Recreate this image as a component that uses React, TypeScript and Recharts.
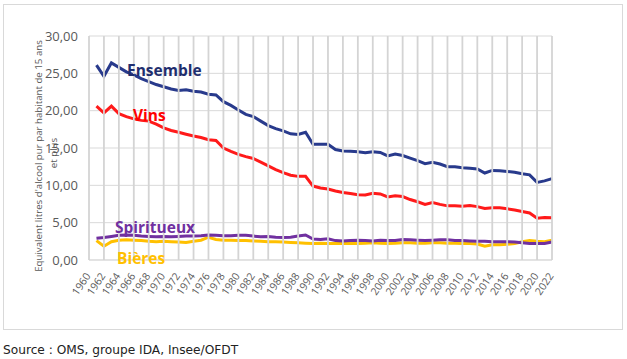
import { CartesianGrid, Line, LineChart, XAxis, YAxis } from "recharts";

const YEARS = [
  1961, 1962, 1963, 1964, 1965, 1966, 1967, 1968, 1969, 1970, 1971, 1972,
  1973, 1974, 1975, 1976, 1977, 1978, 1979, 1980, 1981, 1982, 1983, 1984,
  1985, 1986, 1987, 1988, 1989, 1990, 1991, 1992, 1993, 1994, 1995, 1996,
  1997, 1998, 1999, 2000, 2001, 2002, 2003, 2004, 2005, 2006, 2007, 2008,
  2009, 2010, 2011, 2012, 2013, 2014, 2015, 2016, 2017, 2018, 2019, 2020,
  2021, 2022,
];

const ENSEMBLE = [
  26.1, 24.6, 26.4, 25.8, 25.2, 24.8, 24.3, 23.9, 23.5, 23.2, 22.9, 22.7,
  22.8, 22.6, 22.5, 22.2, 22.1, 21.2, 20.7, 20.1, 19.5, 19.2, 18.6, 18.0,
  17.6, 17.3, 16.9, 16.8, 17.1, 15.5, 15.5, 15.5, 14.8, 14.6, 14.55, 14.5,
  14.35, 14.5, 14.4, 13.95, 14.2, 14.0, 13.65, 13.3, 12.9, 13.1, 12.85, 12.5,
  12.5, 12.35, 12.3, 12.2, 11.65, 12.0, 11.95, 11.85, 11.75, 11.55, 11.4, 10.4,
  10.6, 10.9,
];

const VINS = [
  20.6, 19.7, 20.6, 19.6, 19.2, 18.9, 18.7, 18.6, 18.2, 17.7, 17.35, 17.1,
  16.85, 16.6, 16.4, 16.1, 16.0, 15.0, 14.55, 14.15, 13.85, 13.6, 13.1, 12.6,
  12.1, 11.7, 11.35, 11.2, 11.2, 9.9, 9.65, 9.5, 9.25, 9.05, 8.9, 8.75,
  8.7, 8.95, 8.85, 8.45, 8.6, 8.5, 8.1, 7.8, 7.45, 7.7, 7.45, 7.25,
  7.25, 7.2, 7.3, 7.15, 6.9, 7.0, 7.0, 6.85, 6.7, 6.5, 6.3, 5.6,
  5.7, 5.65,
];

const SPIRITUEUX = [
  2.9, 3.0, 3.15, 3.3, 3.35, 3.3, 3.2, 3.15, 3.1, 3.15, 3.1, 3.15,
  3.2, 3.2, 3.25, 3.35, 3.3, 3.25, 3.25, 3.3, 3.3, 3.2, 3.1, 3.15,
  3.05, 3.0, 3.05, 3.2, 3.35, 2.8, 2.75, 2.85, 2.6, 2.55, 2.6, 2.65,
  2.6, 2.55, 2.65, 2.6, 2.6, 2.75, 2.7, 2.65, 2.6, 2.65, 2.7, 2.7,
  2.6, 2.6, 2.55, 2.5, 2.5, 2.45, 2.45, 2.45, 2.4, 2.3, 2.2, 2.2,
  2.2, 2.4,
];

const BIERES = [
  2.6, 1.85, 2.45, 2.65, 2.7, 2.65, 2.6, 2.5, 2.45, 2.5, 2.45, 2.4,
  2.35, 2.5, 2.65, 3.05, 2.75, 2.65, 2.65, 2.6, 2.6, 2.55, 2.5, 2.45,
  2.45, 2.4, 2.35, 2.3, 2.25, 2.2, 2.25, 2.2, 2.2, 2.25, 2.2, 2.2,
  2.25, 2.3, 2.25, 2.2, 2.25, 2.3, 2.3, 2.25, 2.25, 2.3, 2.3, 2.25,
  2.25, 2.2, 2.2, 2.15, 1.85, 2.05, 2.05, 2.1, 2.2, 2.45, 2.6, 2.5,
  2.45, 2.65,
];

const X_TICKS = [
  1960, 1962, 1964, 1966, 1968, 1970, 1972, 1974, 1976, 1978, 1980, 1982,
  1984, 1986, 1988, 1990, 1992, 1994, 1996, 1998, 2000, 2002, 2004, 2006,
  2008, 2010, 2012, 2014, 2016, 2018, 2020, 2022,
];
const Y_TICKS = [0, 5, 10, 15, 20, 25, 30];

const data = YEARS.map((year, i) => ({
  year,
  ensemble: ENSEMBLE[i],
  vins: VINS[i],
  spiritueux: SPIRITUEUX[i],
  bieres: BIERES[i],
}));

const FONT = "'Open Sans', sans-serif";
const AXIS_TEXT = "#595959";
const GRID = "#d9d9d9";

const PLOT_TOP = 36;
const TICK_GAP = 16;

// year label + its vertical gridline
function YearTick({ x, y, payload }: { x?: number; y?: number; payload?: { value: number } }) {
  if (x === undefined || y === undefined || !payload) return null;
  const px = x + 2;
  return (
    <g>
      <line
        x1={x}
        x2={x}
        y1={y - TICK_GAP}
        y2={PLOT_TOP}
        stroke="#d4d4d4"
        strokeWidth={1.8}
      />
      <text
        x={px}
        y={y}
        transform={`rotate(-56 ${px} ${y})`}
        textAnchor="end"
        fontSize={10.5}
        fill={AXIS_TEXT}
        fontFamily={FONT}
      >
        {payload.value}
      </text>
    </g>
  );
}

export default function App() {
  return (
    <div
      style={{
        position: "absolute",
        left: 0,
        top: 0,
        width: 627,
        height: 359,
        background: "#fff",
        overflow: "hidden",
      }}
    >
      <div
        style={{
          position: "absolute",
          left: 3,
          top: 4,
          width: 618,
          height: 324,
          border: `1px solid ${GRID}`,
        }}
      />
      <div style={{ position: "absolute", left: 0, top: 0 }}>
        <LineChart
          width={627}
          height={330}
          data={data}
          margin={{ top: PLOT_TOP, right: 75, bottom: 0, left: 0 }}
        >
          <CartesianGrid stroke={GRID} strokeWidth={1} vertical={false} />
          <XAxis
            dataKey="year"
            type="number"
            domain={[1960, 2022]}
            ticks={X_TICKS}
            interval={0}
            height={70}
            tickLine={false}
            tickSize={0}
            tickMargin={TICK_GAP}
            axisLine={{ stroke: GRID }}
            tick={<YearTick />}
          />
          <YAxis
            domain={[0, 30]}
            ticks={Y_TICKS}
            width={89}
            axisLine={false}
            tickLine={false}
            tickSize={0}
            tickMargin={11}
            tick={{ fontSize: 13, fill: AXIS_TEXT, fontFamily: FONT }}
            tickFormatter={(v: number) => v.toFixed(2).replace(".", ",")}
          />
          <Line dataKey="bieres" stroke="#ffc000" strokeWidth={3} dot={false} isAnimationActive={false} />
          <Line dataKey="spiritueux" stroke="#7030a0" strokeWidth={3} dot={false} isAnimationActive={false} />
          <Line dataKey="vins" stroke="#ff1a1a" strokeWidth={3} dot={false} isAnimationActive={false} />
          <Line dataKey="ensemble" stroke="#283a8c" strokeWidth={3} dot={false} isAnimationActive={false} />
        </LineChart>
      </div>
      <svg
        width={627}
        height={359}
        style={{ position: "absolute", left: 0, top: 0, pointerEvents: "none" }}
      >
        <text
          x={42}
          y={156}
          transform="rotate(-90 42 156)"
          textAnchor="middle"
          fontSize={9.7}
          fill={AXIS_TEXT}
          fontFamily={FONT}
        >
          Equivalent litres d'alcool pur par habitant de 15 ans
        </text>
        <text
          x={57}
          y={153}
          transform="rotate(-90 57 153)"
          textAnchor="middle"
          fontSize={9.7}
          fill={AXIS_TEXT}
          fontFamily={FONT}
        >
          et plus
        </text>
        <g fontFamily={FONT} fontWeight={700} fontSize={15.5}>
          <text x={127} y={76} fill="#1f2e6e">Ensemble</text>
          <text x={133} y={121} fill="#ff0000">Vins</text>
          <text x={115} y={233} fill="#7030a0">Spiritueux</text>
          <text x={117} y={264} fill="#ffc000">Bières</text>
        </g>
        <text x={3} y={354} fontSize={12.2} fill="#222" fontFamily="'DejaVu Sans', Verdana, sans-serif">
          Source : OMS, groupe IDA, Insee/OFDT
        </text>
      </svg>
    </div>
  );
}
